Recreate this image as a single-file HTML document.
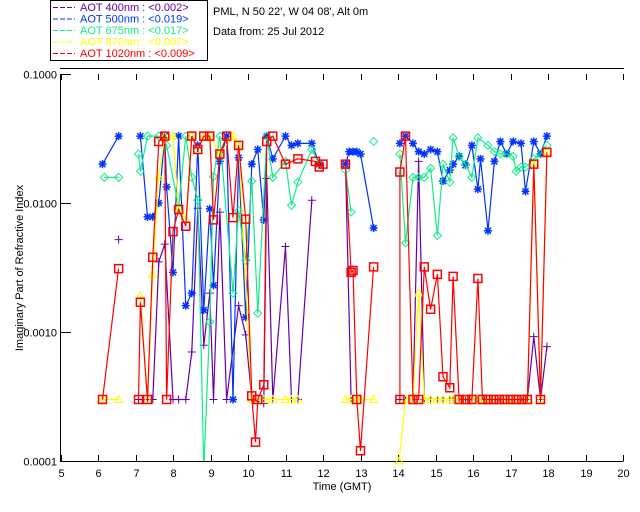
<!DOCTYPE html>
<html><head><meta charset="utf-8"><style>
body{margin:0;background:#fff;}
svg{display:block;font-family:"Liberation Sans",sans-serif;}
</style></head><body>
<svg id="chart" width="640" height="512" viewBox="0 0 640 512">
<rect width="640" height="512" fill="#fff"/>
<g id="legend">
<rect x="50.5" y="0.5" width="157" height="60" fill="none" stroke="#000"/>
</g>
<text x="213" y="15" font-size="11">PML, N 50 22', W 04 08', Alt 0m</text>
<text x="213" y="35" font-size="11">Data from: 25 Jul 2012</text>
<g id="axes"></g>
<g id="series"></g>
<text x="342" y="490" font-size="11" text-anchor="middle">Time (GMT)</text>
<text transform="translate(23,268) rotate(-90)" font-size="11" text-anchor="middle">Imaginary Part of Refractive Index</text>
</svg>
<script>
const xTicks=[5,6,7,8,9,10,11,12,13,14,15,16,17,18,19,20];
const yTicks=[0.1,0.01,0.001,0.0001];
const yTickLabels=["0.1000","0.0100","0.0010","0.0001"];
const legendLabels=["AOT  400nm : <0.002>","AOT  500nm : <0.019>","AOT  675nm : <0.017>","AOT  870nm : <0.007>","AOT 1020nm : <0.009>"];
const seriesColors=["#6600aa","#0033ff","#11ee88","#ffff00","#ff0000"];
const seriesMarkers=["plus","star","diamond","triangle","square"];

const t400=[6.55,7.08,7.32,7.46,7.62,7.78,8.0,8.15,8.34,8.5,8.66,8.82,8.98,9.08,9.25,9.43,9.75,9.94,10.1,10.42,10.5,10.66,11.0,11.16,11.33,11.7,12.6,12.75,12.9,13.0,14.05,14.2,14.4,14.55,14.7,14.87,15.05,15.2,15.38,15.47,15.63,15.8,15.97,16.13,16.3,16.5,16.7,16.9,17.1,17.3,17.45,17.62,17.8,17.97];
const v400=[0.0052,0.0003,0.0003,0.0003,0.0035,0.0048,0.0003,0.0003,0.0003,0.0007,0.0091,0.00079,0.002,0.0003,0.0085,0.0003,0.0016,0.00095,0.0003,0.00028,0.0155,0.0003,0.0046,0.0003,0.0003,0.0105,0.02,0.0003,0.0003,0.0003,0.0003,0.0003,0.0003,0.021,0.0003,0.0003,0.0003,0.0003,0.0003,0.0003,0.0003,0.0003,0.0003,0.0003,0.0003,0.0003,0.0003,0.0003,0.0003,0.0003,0.0003,0.00092,0.0003,0.00077];

const t500=[6.12,6.55,7.13,7.32,7.46,7.62,7.78,7.83,8.0,8.15,8.34,8.5,8.66,8.82,8.98,9.08,9.25,9.43,9.6,9.75,9.94,10.1,10.26,10.42,10.5,10.66,11.0,11.16,11.33,11.7,11.9,12.6,12.7,12.8,12.9,13.0,13.35,14.05,14.2,14.4,14.55,14.7,14.87,15.05,15.2,15.38,15.47,15.63,15.8,15.97,16.13,16.2,16.4,16.57,16.73,16.9,17.07,17.28,17.4,17.62,17.8,17.97];
const v500=[0.02,0.033,0.033,0.0078,0.0078,0.01,0.033,0.0133,0.0029,0.033,0.0016,0.002,0.028,0.00148,0.009,0.0023,0.021,0.033,0.0003,0.0225,0.0013,0.02,0.026,0.0074,0.033,0.022,0.033,0.028,0.029,0.029,0.02,0.02,0.025,0.025,0.025,0.024,0.0064,0.029,0.033,0.029,0.025,0.024,0.026,0.025,0.0148,0.018,0.02,0.023,0.0196,0.028,0.0128,0.022,0.0061,0.021,0.03,0.024,0.03,0.029,0.0123,0.03,0.024,0.033];

const t675=[6.17,6.55,7.08,7.13,7.32,7.62,7.83,8.15,8.34,8.5,8.66,8.82,8.98,9.08,9.25,9.6,9.75,9.94,10.1,10.26,10.5,10.66,11.0,11.16,11.33,11.7,11.9,12.6,12.75,13.35,14.05,14.2,14.4,14.55,14.7,14.87,15.05,15.2,15.38,15.47,15.63,15.8,15.97,16.13,16.4,16.57,16.73,16.9,17.07,17.15,17.28,17.4,17.62,17.8,17.97];
const v675=[0.0158,0.0158,0.024,0.0176,0.033,0.033,0.028,0.0093,0.033,0.0158,0.0105,0.00008,0.0012,0.016,0.033,0.002,0.0087,0.0036,0.0148,0.0014,0.033,0.0158,0.021,0.0096,0.0145,0.026,0.02,0.018,0.0085,0.03,0.024,0.0049,0.0158,0.0158,0.0158,0.0186,0.0056,0.02,0.0145,0.032,0.023,0.02,0.0158,0.032,0.028,0.025,0.024,0.024,0.023,0.0176,0.019,0.019,0.022,0.024,0.028];

const t870=[6.12,6.55,7.13,7.32,7.46,7.62,7.78,8.0,8.15,8.34,8.5,8.66,8.82,8.98,9.25,9.6,9.75,10.1,10.42,10.66,11.0,11.16,11.33,12.6,12.75,12.9,13.0,13.35,14.03,14.2,14.4,14.55,14.7,14.87,15.05,15.2,15.38,15.47,15.63,15.8,15.97,16.13,16.3,16.5,16.7,16.9,17.1,17.3,17.45,17.62,17.8,17.97];
const v870=[0.0003,0.0003,0.0019,0.0003,0.0028,0.016,0.033,0.033,0.0089,0.0075,0.033,0.026,0.033,0.033,0.024,0.033,0.028,0.0003,0.0003,0.0003,0.0003,0.0003,0.0003,0.0003,0.0003,0.0003,0.0003,0.0003,0.0001,0.0003,0.0003,0.002,0.0003,0.0003,0.0003,0.0003,0.0003,0.0003,0.0003,0.0003,0.0003,0.0003,0.0003,0.0003,0.0003,0.0003,0.0003,0.0003,0.0003,0.02,0.0003,0.025];

const t1020=[6.12,6.55,7.08,7.13,7.32,7.46,7.62,7.78,7.83,8.0,8.15,8.34,8.5,8.66,8.82,8.98,9.08,9.25,9.43,9.6,9.75,9.94,10.1,10.2,10.26,10.42,10.5,10.66,11.0,11.33,11.8,11.9,12.0,12.6,12.75,12.8,12.9,13.0,13.35,14.05,14.05,14.2,14.4,14.55,14.7,14.87,15.05,15.2,15.38,15.47,15.63,15.8,15.97,16.13,16.25,16.4,16.55,16.7,16.85,17.0,17.15,17.3,17.45,17.62,17.8,17.97];
const v1020=[0.0003,0.0031,0.0003,0.0017,0.0003,0.0038,0.03,0.033,0.0003,0.006,0.0089,0.0066,0.033,0.026,0.033,0.033,0.0074,0.024,0.033,0.0077,0.028,0.0075,0.00032,0.00014,0.0003,0.00039,0.03,0.033,0.02,0.022,0.021,0.019,0.02,0.02,0.0029,0.003,0.0003,0.00012,0.0032,0.0003,0.0174,0.033,0.0003,0.0003,0.0032,0.0015,0.0028,0.00045,0.00037,0.0027,0.0003,0.0003,0.0003,0.0026,0.0003,0.0003,0.0003,0.0003,0.0003,0.0003,0.0003,0.0003,0.0003,0.02,0.0003,0.0247];

const NS="http://www.w3.org/2000/svg";
function xs(t){return 60.5+(t-5)*37.5;}
function ys(v){return 461-(Math.log10(v)+4)*129;}
function mk(tag,attrs,parent){const e=document.createElementNS(NS,tag);for(const k in attrs)e.setAttribute(k,attrs[k]);parent.appendChild(e);return e;}

const legend=document.getElementById('legend');
legendLabels.forEach((lab,i)=>{
  const y=11+i*11.5;
  const ln=mk('line',{x1:53,x2:75,y1:y-3.5,y2:y-3.5,stroke:seriesColors[i],'stroke-dasharray':'5,2'},legend);
  
  
  const tx=mk('text',{x:80,y:y,'font-size':11,fill:seriesColors[i],'xml:space':'preserve'},legend);
  tx.textContent=lab;
  
  
});

const axes=document.getElementById('axes');
const frame=mk('path',{d:'M60.5 74V461.5H623.5',fill:'none',stroke:'#000'},axes);


mk('line',{x1:60,x2:624,y1:68.5,y2:68.5,stroke:'#000'},axes);
xTicks.forEach(t=>{
  const x=Math.round(xs(t))+0.5;
  mk('line',{x1:x,x2:x,y1:461,y2:455,stroke:'#000'},axes);
  mk('line',{x1:x,x2:x,y1:74,y2:80,stroke:'#000'},axes);
  const tx=mk('text',{x:x,y:477,'font-size':11,'text-anchor':'middle'},axes);
  tx.textContent=t;
  
  
});
yTicks.forEach((v,i)=>{
  const y=Math.round(ys(v))+0.5;
  mk('line',{x1:60.5,x2:71,y1:y,y2:y,stroke:'#000'},axes);
  const tx=mk('text',{x:57,y:y+4,'font-size':11,'text-anchor':'end'},axes);
  tx.textContent=yTickLabels[i];
  
  
});

const sg=document.getElementById('series');
const allT=[t400,t500,t675,t870,t1020],allV=[v400,v500,v675,v870,v1020];
const names=['series-400nm','series-500nm','series-675nm','series-870nm','series-1020nm'];
function clampY(v){return Math.min(470,Math.max(60,ys(v)));}
function marker(type,x,y,c,g){
  const s=4;let d;
  if(type==='plus')d=`M${x-s} ${y}H${x+s}M${x} ${y-s}V${y+s}`;
  else if(type==='star')d=`M${x-s} ${y}H${x+s}M${x} ${y-s}V${y+s}M${x-3} ${y-3}L${x+3} ${y+3}M${x-3} ${y+3}L${x+3} ${y-3}`;
  else if(type==='diamond')d=`M${x} ${y-s}L${x+s} ${y}L${x} ${y+s}L${x-s} ${y}Z`;
  else if(type==='triangle')d=`M${x} ${y-s}L${x+s} ${y+3}L${x-s} ${y+3}Z`;
  else d=`M${x-s} ${y-s}H${x+s}V${y+s}H${x-s}Z`;
  const p=mk('path',{d:d,fill:'none',stroke:c,'stroke-width':(type==='star'||type==='square')?1.5:1},g);
  
  
}
allT.forEach((ts,i)=>{
  const g=mk('g',{},sg);
  
  
  const vs=allV[i];let d='';
  for(let k=0;k<ts.length;k++){
    const x=xs(ts[k]),y=clampY(vs[k]);
    const brk=k===0||ts[k]-ts[k-1]>0.5;
    d+=(brk?'M':'L')+x.toFixed(1)+' '+y.toFixed(1);
  }
  const ln=mk('path',{d:d,fill:'none',stroke:seriesColors[i],'stroke-width':1.2,'clip-path':'url(#clip)'},g);
  
  
  for(let k=0;k<ts.length;k++){
    const v=vs[k];if(v<0.0001||v>0.1)continue;
    marker(seriesMarkers[i],xs(ts[k]),ys(v),seriesColors[i],g);
  }
});
const defs=mk('defs',{},document.getElementById('chart'));
const cp=mk('clipPath',{id:'clip'},defs);
mk('rect',{x:61,y:74,width:563,height:387},cp);
</script>
</body></html>
